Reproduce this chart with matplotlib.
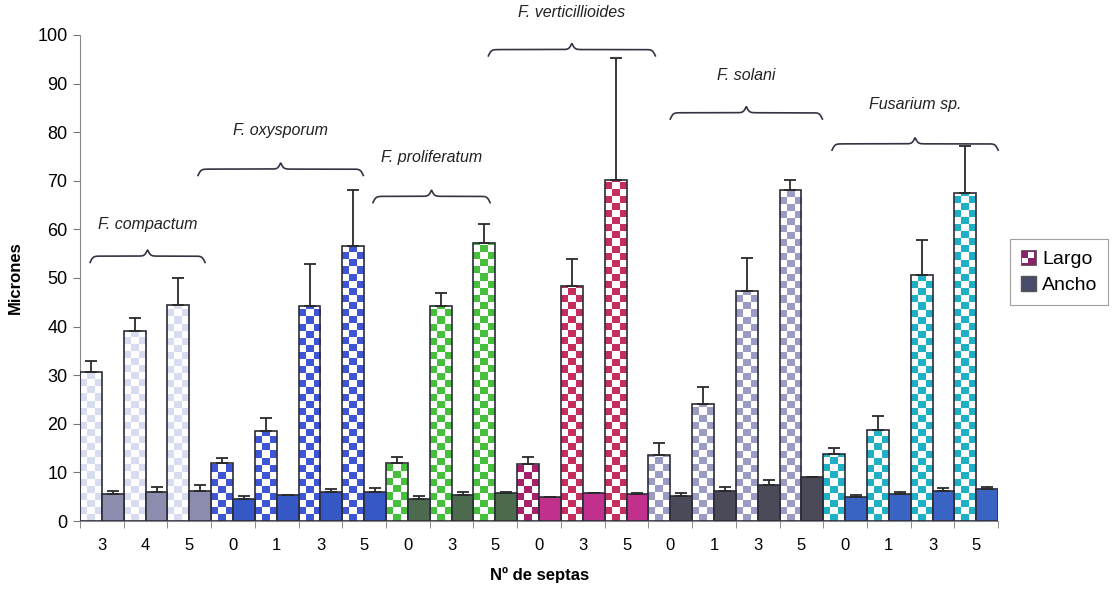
import matplotlib
matplotlib.use("Agg")
import matplotlib.pyplot as plt
import numpy as np
from matplotlib.patches import Rectangle, Patch
from matplotlib.colors import to_rgb
from matplotlib.legend_handler import HandlerBase

plt.rcParams['font.family'] = ['Liberation Sans', 'DejaVu Sans']

septas = ["3", "4", "5", "0", "1", "3", "5", "0", "3", "5", "0", "3", "5",
          "0", "1", "3", "5", "0", "1", "3", "5"]
largo = [30.7, 39.1, 44.4, 11.9, 18.5, 44.2, 56.6, 12.0, 44.2, 57.2, 11.7, 48.4, 70.2,
         13.6, 24.1, 47.3, 68.1, 13.7, 18.7, 50.6, 67.5]
largo_sd = [2.3, 2.6, 5.6, 1.1, 2.6, 8.7, 11.5, 1.2, 2.7, 3.9, 1.5, 5.5, 25.1,
            2.5, 3.4, 6.8, 2.1, 1.4, 2.9, 7.2, 9.7]
ancho = [5.5, 5.9, 6.2, 4.5, 5.3, 5.9, 6.0, 4.5, 5.3, 5.7, 5.0, 5.7, 5.6,
         5.2, 6.2, 7.4, 9.1, 4.9, 5.5, 6.2, 6.5]
ancho_sd = [0.7, 1.2, 1.2, 0.6, 0.1, 0.6, 0.8, 0.6, 0.7, 0.2, 0.0, 0.0, 0.1,
            0.6, 0.7, 1.0, 0.0, 0.4, 0.5, 0.5, 0.5]

especies = ["F. compactum", "F. oxysporum", "F. proliferatum", "F. verticillioides",
            "F. solani", "Fusarium sp."]
grupo = [0, 0, 0, 1, 1, 1, 1, 2, 2, 2, 3, 3, 3, 4, 4, 4, 4, 5, 5, 5, 5]

# checker colour (on white) for Largo and solid colour for Ancho, per species
col_largo = ["#d8dcf0", "#3f55d4", "#45bf3c", "#c42e5c", "#9a9cc4", "#1fb0c8"]
col_ancho = ["#8c8cae", "#3558c4", "#4c6a4e", "#c0308c", "#4a4a58", "#3a64c4"]
col_largo_first = {10: "#a8206c"}  # verticillioides 0 septas is more purple

# brace positions: (x start, x end, y of brace, text y)
llaves = [(-0.27, 2.36, 54.5, 61.0),
          (2.2, 5.98, 72.4, 80.3),
          (6.2, 8.88, 66.8, 74.8),
          (8.84, 12.66, 97.0, 104.6),
          (13.0, 16.48, 84.0, 91.6),
          (16.7, 20.5, 77.6, 85.8)]

fig = plt.figure(figsize=(11.19, 5.93), dpi=100)
ax = fig.add_axes([0.0715, 0.1214, 0.8205, 0.8196])

x = np.arange(len(septas))
w = 0.5
edge = "#2c2c38"

bl = ax.bar(x - w / 2, largo, w, facecolor="none", edgecolor=edge, linewidth=1.2, zorder=3)
ba = ax.bar(x + w / 2, ancho, w, color=[col_ancho[g] for g in grupo],
            edgecolor=edge, linewidth=1.2, zorder=3)

# checker fill for Largo bars
sq = 1.45
nrows = int(np.ceil(100 / sq))
ii, jj = np.indices((nrows, 3))
mask = ((ii + jj) % 2).astype(float)[..., None]
for i, rect in enumerate(bl):
    c = np.array(to_rgb(col_largo_first.get(i, col_largo[grupo[i]])))
    img = mask * c + (1 - mask) * np.ones(3)
    x0 = rect.get_x()
    im = ax.imshow(img, extent=(x0, x0 + w, 0, nrows * sq), origin="lower",
                   interpolation="nearest", aspect="auto", zorder=2)
    im.set_clip_path(rect)

ax.errorbar(x - w / 2, largo, yerr=[np.zeros(len(largo)), largo_sd], fmt="none",
            ecolor="#2a2a2a", elinewidth=1.3, capsize=4, capthick=1.3, zorder=4)
ax.errorbar(x + w / 2, ancho, yerr=[np.zeros(len(ancho)), ancho_sd], fmt="none",
            ecolor="#2a2a2a", elinewidth=1.3, capsize=4, capthick=1.3, zorder=4)

ax.set_xlim(-0.5, len(septas) - 0.5)
ax.set_ylim(0, 100)
ax.set_yticks(range(0, 101, 10))
ax.set_xticks(x)
ax.set_xticklabels(septas)
ax.set_xticks(np.arange(-0.5, len(septas), 1), minor=True)
ax.tick_params(axis="x", which="major", length=0, pad=12, labelsize=12)
ax.tick_params(axis="x", which="minor", length=5, color="#777777")
ax.tick_params(axis="y", length=5, color="#777777", labelsize=13, pad=4)
for s in ["top", "right"]:
    ax.spines[s].set_visible(False)
for s in ["left", "bottom"]:
    ax.spines[s].set_color("#888888")
ax.set_xlabel("Nº de septas", fontsize=12, fontweight="bold", labelpad=10)
ax.set_ylabel("Micrones", fontsize=12, fontweight="bold", labelpad=10)


def llave(ax, xa, xb, y, h=2.6, k=30):
    xs = np.linspace(xa, xb, 400)
    half = xs[:200]
    xm = (xa + xb) / 2
    yh = 1 / (1 + np.exp(-k * (half - xa))) + 1 / (1 + np.exp(-k * (half - xm)))
    yy = np.concatenate((yh, yh[::-1]))
    ax.plot(xs, y + (yy - 1) * h, color="#333344", lw=1.2, clip_on=False, zorder=5)


for nombre, (xa, xb, y, ty) in zip(especies, llaves):
    llave(ax, xa, xb, y)
    ax.text((xa + xb) / 2, ty, nombre, ha="center", va="center", style="italic",
            fontsize=11.5, color="#222222", clip_on=False)


class Cuadros(HandlerBase):
    def create_artists(self, legend, orig, xd, yd, width, height, fontsize, trans):
        s = min(width, height)
        x0 = (width - s) / 2 - xd
        arts = [Rectangle((x0, -yd), s, s, facecolor="#8a2468", edgecolor="#555555",
                          lw=0.6, transform=trans)]
        arts.append(Rectangle((x0 + s / 2, -yd + s / 2), s * 0.4, s * 0.4,
                              facecolor="white", edgecolor="none", transform=trans))
        arts.append(Rectangle((x0 + s * 0.1, -yd + s * 0.1), s * 0.4, s * 0.4,
                              facecolor="white", edgecolor="none", transform=trans))
        return arts


h_largo = Patch(facecolor="#8a2468")
h_ancho = Patch(facecolor="#4a4a6c", edgecolor="#555555")
leg = fig.legend([h_largo, h_ancho], ["Largo", "Ancho"], loc="center left",
                 bbox_to_anchor=(0.899, 0.541), fontsize=14, frameon=True,
                 fancybox=False, edgecolor="#888888", handlelength=0.8,
                 handleheight=0.8, handletextpad=0.3, borderpad=0.55,
                 labelspacing=0.4, borderaxespad=0.2, handler_map={h_largo: Cuadros()})
leg.get_frame().set_linewidth(0.8)

fig.savefig("out.png", dpi=100)
